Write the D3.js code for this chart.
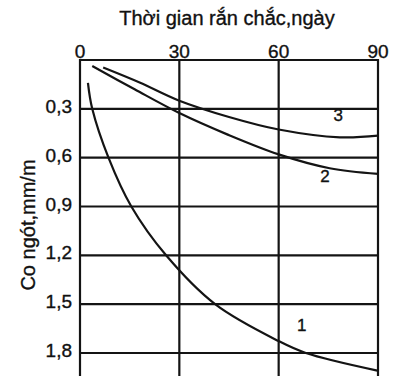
<!DOCTYPE html>
<html>
<head>
<meta charset="utf-8">
<script src="https://cdn.jsdelivr.net/npm/d3@7"></script>
<style>
  body { margin: 0; background: #fff; }
  text { font-family: "Liberation Sans", Arial, sans-serif; fill: #111; stroke: #111; stroke-width: 0.35px; }
</style>
</head>
<body>
<div id="bieudo"></div>
<script>
// du lieu doc tu hinh
var xTicks = [0, 30, 60, 90];
var yTicks = [0.3, 0.6, 0.9, 1.2, 1.5, 1.8];
var yTickLabels = ["0,3", "0,6", "0,9", "1,2", "1,5", "1,8"];

var ngay1 = [2.4, 3.7, 8.6, 15.5, 26.0, 40.8, 60, 68.2, 89.8];
var coNgot1 = [0.14, 0.3, 0.6, 0.9, 1.2, 1.5, 1.727, 1.8, 1.908];

var ngay2 = [3.7, 16.5, 30, 44.8, 60, 75.4, 90];
var coNgot2 = [0.037, 0.18, 0.326, 0.46, 0.58, 0.665, 0.70];

var ngay3 = [7.0, 18, 30, 45, 60, 78.5, 90];
var coNgot3 = [0.046, 0.138, 0.25, 0.35, 0.427, 0.475, 0.465];

var nhanDuong = ["1", "2", "3"];
var viTriNhan = [[67, 1.63], [74, 0.71], [78, 0.335]];

var width = 393, height = 376;

var svg = d3.select("#bieudo")
    .append("svg")
        .attr("width", width)
        .attr("height", height)
        .style("background-color", "#fff");

var x = d3.scaleLinear()
    .domain([0, 90])
    .range([80, 378]);

var y = d3.scaleLinear()
    .domain([0, 1.8])
    .range([60, 353]);

var mau = "#141414";

// luoi ngang
svg.append("g")
    .selectAll("line")
    .data([0].concat(yTicks))
    .enter()
    .append("line")
    .attr("x1", x(0))
    .attr("x2", x(90) + 1)
    .attr("y1", function(d){ return y(d); })
    .attr("y2", function(d){ return y(d); })
    .style("stroke", mau)
    .style("stroke-width", 2.2);

// luoi doc
svg.append("g")
    .selectAll("line")
    .data(xTicks)
    .enter()
    .append("line")
    .attr("x1", function(d){ return x(d); })
    .attr("x2", function(d){ return x(d); })
    .attr("y1", y(0) - 1)
    .attr("y2", height)
    .style("stroke", mau)
    .style("stroke-width", 2.2);

// nhan truc x (phia tren)
svg.append("g")
    .selectAll("text")
    .data(xTicks)
    .enter()
    .append("text")
    .attr("x", function(d){ return x(d); })
    .attr("y", 58)
    .attr("text-anchor", "middle")
    .style("font-size", "19px")
    .text(function(d){ return d; });

// nhan truc y
svg.append("g")
    .selectAll("text")
    .data(yTicks)
    .enter()
    .append("text")
    .attr("x", 72)
    .attr("y", function(d){ return y(d) + 4; })
    .attr("text-anchor", "end")
    .style("font-size", "19px")
    .text(function(d, i){ return yTickLabels[i]; });

svg.append("text")
    .attr("x", 227)
    .attr("y", 25)
    .attr("text-anchor", "middle")
    .style("font-size", "20px")
    .text("Thời gian rắn chắc,ngày");

svg.append("text")
    .attr("transform", "translate(35,225) rotate(-90)")
    .attr("text-anchor", "middle")
    .style("font-size", "20px")
    .text("Co ngót,mm/m");

// cac duong cong
var line = d3.line()
    .x(function(d){ return x(d[0]); })
    .y(function(d){ return y(d[1]); })
    .curve(d3.curveCatmullRom.alpha(0.5));

var duong = [
    d3.zip(ngay1, coNgot1),
    d3.zip(ngay2, coNgot2),
    d3.zip(ngay3, coNgot3)
];

svg.append("g")
    .selectAll("path")
    .data(duong)
    .enter()
    .append("path")
    .attr("d", line)
    .style("fill", "none")
    .style("stroke", mau)
    .style("stroke-width", 2.2);

svg.append("g")
    .selectAll("text")
    .data(nhanDuong)
    .enter()
    .append("text")
    .attr("x", function(d, i){ return x(viTriNhan[i][0]); })
    .attr("y", function(d, i){ return y(viTriNhan[i][1]) + 6; })
    .attr("text-anchor", "middle")
    .style("font-size", "17px")
    .text(function(d){ return d; });
</script>
</body>
</html>
